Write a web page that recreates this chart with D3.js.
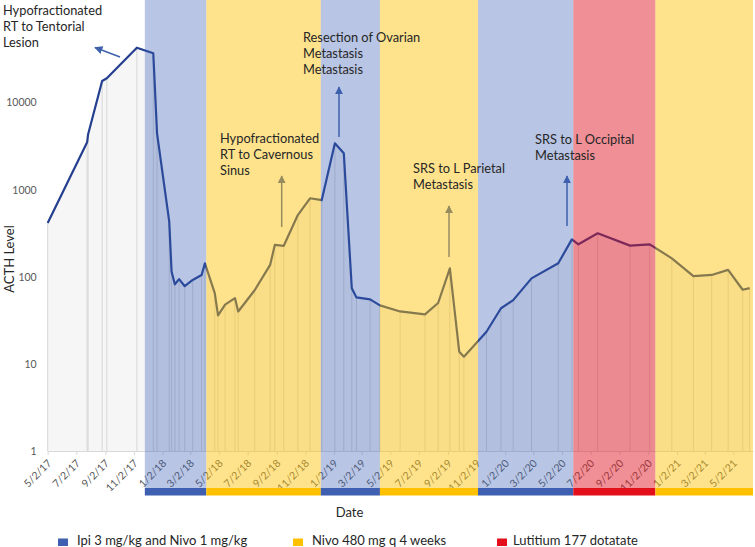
<!DOCTYPE html>
<html><head><meta charset="utf-8">
<script src="https://cdn.jsdelivr.net/npm/d3@7"></script>
<style>
body{margin:0;background:#fff;}
svg{display:block;font-family:Lato,"Open Sans",sans-serif;}
</style></head>
<body><svg id="chart" width="755" height="547"></svg>
<script>
// ---- data ----
const dates = ["5/2/17","7/25/17","7/27/17","8/26/17","9/5/17","11/8/17","12/13/17","12/21/17",
"1/16/18","1/21/18","1/28/18","2/6/18","2/18/18","3/7/18","3/26/18","4/2/18","4/23/18","4/30/18",
"5/15/18","6/5/18","6/12/18","7/17/18","8/19/18","8/29/18","9/17/18","10/17/18","11/12/18","12/7/18",
"1/4/19","1/23/19","2/9/19","2/19/19","3/20/19","4/10/19","5/23/19","7/15/19","8/12/19","9/6/19",
"9/26/19","10/6/19","11/23/19","12/24/19","1/19/20","2/27/20","4/24/20","5/23/20","6/6/20","7/17/20",
"9/24/20","11/5/20","12/22/20","2/6/21","3/17/21","4/21/21","5/22/21","6/6/21"];
const acth = [414,3500,4300,17700,19000,42700,36800,4440,
429,114,82,94,78,92,105,143,65,36,
48,57,40,70,137,232,227,512,797,760,
3410,2620,74,58,55,47,40,37,50,125,
13.8,12.1,23.4,43.5,54,96,143,269,236,316,
228,236,163,102,105,120,71,74];
const tickLabels = ["5/2/17","7/2/17","9/2/17","11/2/17","1/2/18","3/2/18","5/2/18","7/2/18","9/2/18","11/2/18",
"1/2/19","3/2/19","5/2/19","7/2/19","9/2/19","11/2/19","1/2/20","3/2/20","5/2/20","7/2/20","9/2/20","11/2/20",
"1/2/21","3/2/21","5/2/21"];
const yTicks = [1,10,100,1000,10000];
const bandStart = ["11/25/17","4/5/18","12/5/18","4/10/19","11/5/19","5/26/20","11/17/20"];
const bandEnd   = ["4/5/18","12/5/18","4/10/19","11/5/19","5/26/20","11/17/20","6/13/21"];
const bandType  = ["ipi","nivo","ipi","nivo","ipi","lu","nivo"];
const legendKeys = ["ipi","nivo","lu"];
const legendLabels = ["Ipi 3 mg/kg and Nivo 1 mg/kg","Nivo 480 mg q 4 weeks","Lutitium 177 dotatate"];
const annotations = [
  {lines:["Hypofractionated","RT to Tentorial","Lesion"], date:"11/2/17"},
  {lines:["Hypofractionated","RT to Cavernous","Sinus"], date:"9/2/18"},
  {lines:["Resection of Ovarian","Metastasis","Metastasis"], date:"1/2/19"},
  {lines:["SRS to L Parietal","Metastasis"], date:"9/2/19"},
  {lines:["SRS to L Occipital","Metastasis"], date:"5/2/20"}
];

// ---- setup ----
const parse = d3.timeParse("%-m/%-d/%y");
const fmt = d3.timeFormat("%-m/%-d/%y");
const svg = d3.select("#chart");
const x = d3.scaleTime().domain([parse("5/2/17"), parse("6/13/21")]).range([47.7, 753]);
const y = d3.scaleLog().domain([1, 100000]).range([451, 15.5]);
const data = dates.map((d,i)=>({d:parse(d), v:acth[i]}));
const bandColor = {ipi:"#3a5fb5", nivo:"#ffc000", lu:"#e0101e"};
const bandOpacity = {ipi:0.36, nivo:0.45, lu:0.47};
const barColor = {ipi:"#3f5fb0", nivo:"#ffc000", lu:"#e3101c"};

// area
svg.append("path").datum(data)
  .attr("d", d3.area().x(d=>x(d.d)).y0(y(1)).y1(d=>y(d.v)))
  .attr("fill","#f6f6f6");
// drop lines
svg.append("g").selectAll("line").data(data).join("line")
  .attr("x1",d=>x(d.d)).attr("x2",d=>x(d.d))
  .attr("y1",d=>y(d.v)).attr("y2",y(1))
  .attr("stroke","#d6d6d6").attr("stroke-width",1);

// x axis
const xAxis = svg.append("g").attr("transform",`translate(0,${y(1)})`)
  .call(d3.axisBottom(x).tickValues(tickLabels.map(parse)).tickFormat(fmt).tickSize(4).tickSizeOuter(0));
xAxis.select(".domain").attr("stroke","#d9d9d9");
xAxis.selectAll(".tick line").attr("stroke","#d9d9d9");
xAxis.selectAll(".tick text")
  .attr("fill","#595959").attr("font-size","10.5px").attr("font-family","Lato")
  .attr("text-anchor","end").attr("dy",null).attr("y",null)
  .attr("transform","translate(4,13) rotate(-45)");

// line
svg.append("path").datum(data)
  .attr("d", d3.line().x(d=>x(d.d)).y(d=>y(d.v)))
  .attr("fill","none").attr("stroke","#243f8f").attr("stroke-width",2.2)
  .attr("stroke-linejoin","round");

// arrows
const defs = svg.append("defs");
defs.append("marker").attr("id","ah").attr("viewBox","0 0 10 10").attr("refX",9).attr("refY",5)
  .attr("markerWidth",5.5).attr("markerHeight",5.5).attr("orient","auto")
  .append("path").attr("d","M0,0L10,5L0,10z").attr("fill","#3f62ad");
const arrows = [
  [120,57,95,47.5],
  [281.7,227,281.7,176],
  [339,137,339,87],
  [449,257,449,206],
  [567,226,567,176]
];
svg.append("g").selectAll("line").data(arrows).join("line")
  .attr("x1",d=>d[0]).attr("y1",d=>d[1]).attr("x2",d=>d[2]).attr("y2",d=>d[3])
  .attr("stroke","#3f62ad").attr("stroke-width",1.5).attr("marker-end","url(#ah)");

// bands overlay
const bands = bandStart.map((s,i)=>({s:parse(s), e:parse(bandEnd[i]), t:bandType[i]}));
svg.append("g").selectAll("rect").data(bands).join("rect")
  .attr("x",d=>x(d.s)).attr("width",d=>x(d.e)-x(d.s))
  .attr("y",0).attr("height",488)
  .attr("fill",d=>bandColor[d.t]).attr("fill-opacity",d=>bandOpacity[d.t]);
svg.append("g").selectAll("rect").data(bands).join("rect")
  .attr("x",d=>x(d.s)).attr("width",d=>x(d.e)-x(d.s))
  .attr("y",488).attr("height",7.5)
  .attr("fill",d=>barColor[d.t]);

// y axis
const yAxis = svg.append("g").attr("transform",`translate(${x.range()[0]},0)`)
  .call(d3.axisLeft(y).tickValues(yTicks).tickFormat(d3.format("d")).tickSize(0).tickPadding(11));
yAxis.select(".domain").remove();
yAxis.selectAll(".tick text").attr("fill","#595959").attr("font-size","10.5px").attr("font-family","Lato");

// axis titles
svg.append("text").attr("transform","translate(13.5,259) rotate(-90)")
  .attr("text-anchor","middle").attr("font-size","13px").attr("fill","#262626").text("ACTH Level");
svg.append("text").attr("x",349.5).attr("y",517).attr("text-anchor","middle")
  .attr("font-size","13px").attr("fill","#262626").text("Date");

// annotations
const annoPos = [[3,15],[220,143],[303,42],[413,173],[535,144]];
annotations.forEach((a,i)=>{
  const t = svg.append("text").attr("x",annoPos[i][0]).attr("y",annoPos[i][1])
    .attr("font-size","12.8px").attr("fill","#262626");
  a.lines.forEach((l,j)=>t.append("tspan").attr("x",annoPos[i][0]).attr("dy",j?16.2:0).text(l));
});

// legend
const legX = [58,293,497], legTX=[77,312,513];
legendKeys.forEach((k,i)=>{
  svg.append("rect").attr("x",legX[i]).attr("y",538.5).attr("width",10).attr("height",7.5).attr("fill",barColor[k]);
  svg.append("text").attr("x",legTX[i]).attr("y",544.5).attr("font-size","13px").attr("fill","#262626").text(legendLabels[i]);
});
</script></body></html>
